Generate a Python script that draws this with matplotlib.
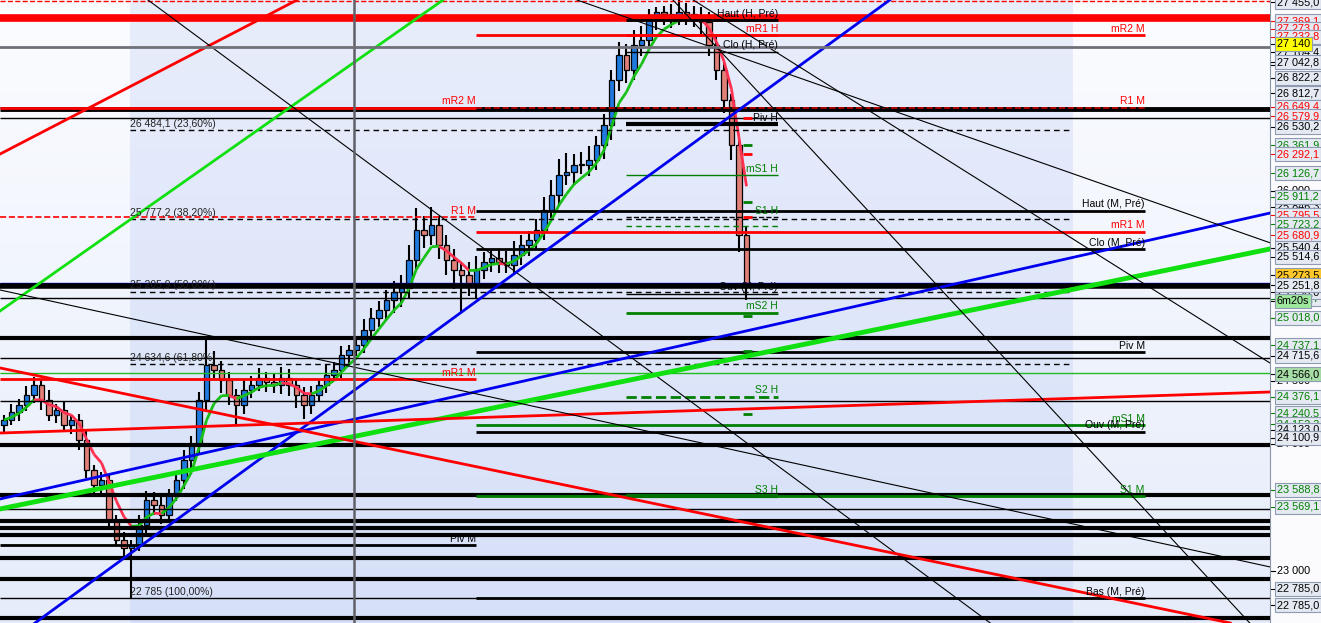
import numpy as np
import pandas as pd
import matplotlib
matplotlib.use("Agg")
import matplotlib.pyplot as plt
from matplotlib.collections import LineCollection
from matplotlib.transforms import blended_transform_factory

plt.rcParams['font.family'] = ['Liberation Sans', 'DejaVu Sans']

# --- bougies (cours de clôture, mèches) ---
first_open = 24150
closes = [24193, 24256, 24311, 24390, 24469, 24351, 24232, 24272, 24153, 24193,
          24035, 23798, 23679, 23719, 23403, 23245, 23182, 23205, 23363, 23561,
          23521, 23442, 23600, 23719, 23877, 23995, 24351, 24627, 24588, 24509,
          24390, 24311, 24430, 24469, 24525, 24493, 24469, 24525, 24469, 24390,
          24311, 24390, 24469, 24548, 24588, 24706, 24746, 24785, 24904, 24999,
          25062, 25141, 25204, 25236, 25457, 25694, 25654, 25733, 25575, 25457,
          25378, 25338, 25259, 25378, 25441, 25473, 25441, 25417, 25496, 25575,
          25615, 25694, 25852, 25970, 26128, 26152, 26207, 26207, 26247, 26365,
          26523, 26879, 27076, 26958, 27155, 27195, 27353, 27420, 27400, 27392,
          27416, 27400, 27369, 27337, 27155, 26958, 26720, 26365, 25654, 25273.5]
wick_up = [40, 60, 50, 70, 60, 40, 80, 50, 60, 40,
           50, 70, 40, 60, 50, 40, 60, 40, 80, 70,
           60, 90, 50, 60, 80, 70, 60, 200, 110, 70,
           60, 50, 90, 70, 80, 50, 60, 90, 70, 50,
           60, 70, 50, 80, 60, 70, 40, 60, 90, 80,
           70, 80, 90, 100, 120, 170, 110, 140, 70, 80,
           90, 60, 100, 110, 80, 70, 60, 90, 110, 80,
           70, 90, 100, 120, 130, 150, 90, 100, 110, 70,
           90, 80, 100, 90, 120, 110, 90, 35, 40, 80,
           100, 70, 60, 90, 80, 70, 60, 50, 40, 60]
wick_dn = [60, 40, 70, 50, 60, 80, 50, 60, 40, 70,
           80, 60, 90, 70, 60, 50, 80, 400, 50, 60,
           80, 70, 60, 50, 70, 60, 80, 90, 60, 100,
           80, 150, 70, 60, 50, 80, 60, 70, 90, 100,
           110, 70, 50, 60, 50, 60, 70, 50, 60, 80,
           70, 90, 100, 120, 80, 90, 100, 80, 110, 120,
           150, 300, 90, 100, 70, 80, 90, 60, 70, 80,
           90, 70, 80, 60, 90, 80, 100, 70, 90, 80,
           110, 120, 90, 100, 80, 90, 70, 80, 90, 100,
           80, 90, 70, 100, 90, 80, 100, 120, 130, 130]

# --- niveaux horizontaux sur toute la largeur (prix, couleur, épaisseur, style) ---
full_levels = [27500, 27369, 26649, 26579, 25273.5, 25251.8, 25157, 24841, 24683, 24566,
               24343, 23995, 23600, 23490, 23395, 23340, 23284, 23103, 22937, 22785, 22629]
full_colors = ['red', 'red', 'black', 'black', 'blue', 'black', 'black', 'black', 'black', '#22bb22',
               'black', 'black', 'black', 'black', 'black', 'black', 'black', 'black', 'black', 'black', 'black']
full_widths = [1, 5.5, 3.5, 1, 1, 4, 1, 3, 1, 1,
               1, 3, 3, 1, 3, 3, 3, 3, 3, 1, 3]
full_styles = ['--', '-', '-', '-', '-', '-', '-', '-', '-', '-',
               '-', '-', '-', '-', '-', '-', '-', '-', '-', '-', '-']

# pivots mensuels précédents (finissent à la barre 63)
prev_m_labels = ['mR2 M', 'R1 M', 'mR1 M', 'Piv M']
prev_m_prices = [26660, 25795.5, 24517, 23205]
prev_m_colors = ['red', 'red', 'red', 'black']
prev_m_styles = ['-', '--', '-', '-']

# pivots mensuels (barres 63 -> 152)
m_labels = ['mR2 M', 'R1 M', 'Haut (M, Pré)', 'mR1 M', 'Clo (M, Pré)', 'Piv M',
            'mS1 M', 'Ouv (M, Pré)', 'S1 M', 'Bas (M, Pré)']
m_prices = [27232.8, 26660, 25846, 25680.9, 25540.4, 24730, 24152, 24100.9, 23588.8, 22785]
m_colors = ['red', '#cc0000', 'black', 'red', 'black', 'black', '#008000', 'black', '#008000', 'black']
m_styles = ['-', '--', '-', '-', '-', '-', '-', '-', '-', '-']
m_text_colors = ['red', 'red', 'black', 'red', 'black', 'black', '#008000', 'black', '#008000', 'black']

# pivots horaires (barres 83 -> 103)
h_labels = ['Haut (H, Pré)', 'mR1 H', 'Clo (H, Pré)', 'Piv H', 'mS1 H', 'S1 H',
            'Ouv (H, Pré)', 'mS2 H', 'S2 H', 'S3 H']
h_prices = [27353, 27232.8, 27104, 26530.2, 26126.7, 25795.5, 25190, 25040, 24376.1, 23588.8]
h_colors = ['black', 'red', 'black', 'black', '#008000', 'black', 'black', '#008000', '#008000', '#007000']
h_widths = [2, 2, 1, 3, 1, 1, 1, 2, 2, 3]
h_styles = ['-', '-', '-', '-', '-', '--', '-', '-', '--', '-']
h_text_colors = ['black', 'red', 'black', 'black', '#008000', '#008000', 'black', '#008000', '#008000', '#008000']
h_extra_prices = [25723.2]

# retracements de Fibonacci (barres 17 -> 142)
fib_prices = [26484.1, 25777.2, 25205.9, 24634.6, 22785]
fib_labels = ['26 484,1 (23,60%)', '25 777,2 (38,20%)', '25 205,9 (50,00%)',
              '24 634,6 (61,80%)', '22 785 (100,00%)']

# droites obliques : deux points (barre, prix)
trend_pts = [((-0.53, 26294), (39.07, 27511)),
             ((-0.53, 25054), (58.53, 27511)),
             ((19.2, 27511), (131.5, 22589)),
             ((4.13, 22589), (118.1, 27511)),
             ((-0.53, 23569), (168.8, 25828)),
             ((-0.53, 23490), (168.8, 25544)),
             ((-0.53, 24090), (168.8, 24414)),
             ((-0.53, 24604), (163.5, 22589)),
             ((-0.53, 25220), (168.8, 23032)),
             ((89.2, 27511), (166.1, 22589)),
             ((91.9, 27511), (168.8, 24643)),
             ((76.4, 27511), (168.8, 25593))]
trend_colors = ['red', '#10e010', 'black', '#0000ee', '#0000ee', '#10e010', 'red', 'red',
                'black', 'black', 'black', 'black']
trend_widths = [2, 2, 0.8, 2, 2, 3.5, 2, 2, 0.8, 0.8, 0.8, 0.8]

# petits repères près de la dernière bougie
mark_prices = [26361.9, 26579, 26292.1, 25911.2, 25795.5, 25018, 24737.1, 24240.5]
mark_colors = ['#008000', 'red', 'red', '#008000', 'red', '#008000', '#008000', '#008000']

# étiquettes de l'axe des prix (texte, position, couleur texte, fond)
axis_text = ['27 455,0', '27 369,1', '27 273,0', '27 232,8', '27 104,4', '27 140', '27 042,8',
             '26 822,2', '26 812,7', '26 649,4', '26 579,9', '26 530,2', '26 361,9', '26 292,1',
             '26 126,7', '25 846,3', '25 911,2', '25 795,5', '25 723,2', '25 680,9', '25 540,4',
             '25 514,6', '25 140,7', '25 190,0', '25 273,5', '25 251,8', '6m20s', '25 018,0',
             '24 737,1', '24 715,6', '24 566,0', '24 376,1', '24 240,5', '24 152,3', '24 123,0',
             '24 100,9', '23 588,8', '23 569,1', '22 785,0', '22 785,0']
axis_pos = [27495, 27345, 27282, 27219, 27100, 27163, 27021,
            26895, 26776, 26666, 26594, 26508, 26365, 26294,
            26144, 25876, 25955, 25812, 25741, 25654, 25552,
            25481, 25149, 25204, 25338, 25259, 25133, 24999,
            24785, 24699, 24556, 24375, 24248, 24161, 24114,
            24051, 23640, 23506, 22858, 22731]
axis_fg = ['black', 'red', 'red', 'red', 'black', 'black', 'black',
           'black', 'black', 'red', 'red', 'black', '#008000', 'red',
           '#008000', 'black', '#008000', 'red', '#008000', 'red', 'black',
           'black', '#008000', 'black', 'black', 'black', 'black', '#008000',
           '#008000', 'black', 'black', '#008000', '#008000', '#008000', 'black',
           'black', '#008000', '#008000', 'black', 'black']
axis_bg = ['#e4e9f2', '#e4e9f2', '#e4e9f2', '#e4e9f2', '#e4e9f2', '#ffff00', '#e4e9f2',
           '#e4e9f2', '#e4e9f2', '#e4e9f2', '#e4e9f2', '#e4e9f2', '#e4e9f2', '#e4e9f2',
           '#e4e9f2', '#e4e9f2', '#e4e9f2', '#e4e9f2', '#e4e9f2', '#e4e9f2', '#e4e9f2',
           '#e4e9f2', '#e4e9f2', '#e4e9f2', '#ffc828', '#e4e9f2', '#9ee89e', '#e4e9f2',
           '#e4e9f2', '#e4e9f2', '#a6dca6', '#e4e9f2', '#e4e9f2', '#e4e9f2', '#e4e9f2',
           '#e4e9f2', '#e4e9f2', '#e4e9f2', '#e4e9f2', '#e4e9f2']
plain_ticks = [27000, 26000, 25000, 24500, 24000, 23000]
plain_text = ['27 000', '26 000', '25 000', '24 500', '24 000', '23 000']

cursor_bar = 46.7
cursor_price = 27140

XMIN, XMAX = -0.533, 168.8
YMIN, YMAX = 22589, 27511

fig = plt.figure(figsize=(13.21, 6.23), dpi=100)
fig.patch.set_facecolor('#fbfbfd')
ax = fig.add_axes([0, 0, 1270 / 1321, 1])
ax.set_xlim(XMIN, XMAX)
ax.set_ylim(YMIN, YMAX)

# fond dégradé
H, W = 623, 1270
t = np.linspace(0, 1, H)[:, None, None]
top_c = np.array([0.91, 0.93, 0.985])
bot_c = np.array([0.84, 0.878, 0.973])
side_top = np.array([0.985, 0.99, 1.0])
side_bot = np.array([0.90, 0.925, 0.982])
img = np.repeat(top_c + (bot_c - top_c) * t, W, axis=1)
side = side_top + (side_bot - side_top) * t
xs = np.arange(W)
img[:, xs < 130, :] = np.repeat(side, (xs < 130).sum(), axis=1)
img[:, xs > 1072, :] = np.repeat(side, (xs > 1072).sum(), axis=1)
ax.imshow(img, extent=(XMIN, XMAX, YMIN, YMAX), aspect='auto', origin='upper', zorder=0)

# bougies
n = len(closes)
opens = [first_open] + closes[:-1]
for i in range(n):
    o, c = opens[i], closes[i]
    hi = max(o, c) + wick_up[i]
    lo = min(o, c) - wick_dn[i]
    col = '#1f7ae0' if c >= o else '#e08078'
    ax.vlines(i, lo, hi, color='black', lw=1.5, zorder=2)
    ax.bar(i, max(abs(c - o), 10), bottom=min(o, c), width=0.74, color=col,
           edgecolor='black', lw=0.9, zorder=2.5)

# moyenne mobile colorée selon la pente
ema = pd.Series(closes).ewm(span=5, adjust=False).mean().values
segs = [[(i, ema[i]), (i + 1, ema[i + 1])] for i in range(n - 1)]
cols = ['#18c018' if ema[i + 1] >= ema[i] else '#ff3050' for i in range(n - 1)]
ax.add_collection(LineCollection(segs, colors=cols, linewidths=2, zorder=3))

# niveaux pleine largeur
for p, c, w, s in zip(full_levels, full_colors, full_widths, full_styles):
    ax.hlines(p, XMIN, XMAX, colors=c, lw=w, linestyles=s, zorder=3)

# fibo
for p, lab in zip(fib_prices, fib_labels):
    if p != 22785:
        ax.hlines(p, 16.8, 142.1, colors='black', lw=1, linestyles=(0, (4, 3)), zorder=3)
    ax.annotate(lab, (16.8, p), xytext=(0, 1), textcoords='offset points',
                fontsize=7.5, ha='left', va='bottom', color='#222222', zorder=6)

# pivots mensuels précédents
for lab, p, c, s in zip(prev_m_labels, prev_m_prices, prev_m_colors, prev_m_styles):
    ax.hlines(p, XMIN, 62.9, colors=c, lw=2 if s == '-' else 1.2, linestyles=s, zorder=3.2)
    ax.annotate(lab, (62.9, p), xytext=(0, 1), textcoords='offset points',
                fontsize=7.5, ha='right', va='bottom', color=c, zorder=6)

# pivots mensuels
for lab, p, c, s, tc in zip(m_labels, m_prices, m_colors, m_styles, m_text_colors):
    ax.hlines(p, 62.9, 152.1, colors=c, lw=2 if s == '-' else 1.2, linestyles=s, zorder=3.2)
    ax.annotate(lab, (152.1, p), xytext=(0, 1), textcoords='offset points',
                fontsize=7.5, ha='right', va='bottom', color=tc, zorder=6)

# pivots horaires
for lab, p, c, w, s, tc in zip(h_labels, h_prices, h_colors, h_widths, h_styles, h_text_colors):
    ax.hlines(p, 82.9, 103.2, colors=c, lw=w, linestyles=s, zorder=3.3)
    ax.annotate(lab, (103.2, p), xytext=(0, 1), textcoords='offset points',
                fontsize=7.5, ha='right', va='bottom', color=tc, zorder=6)
for p in h_extra_prices:
    ax.hlines(p, 82.9, 103.2, colors='#008000', lw=1, linestyles=(0, (4, 3)), zorder=3.3)

# repères
for p, c in zip(mark_prices, mark_colors):
    ax.hlines(p, 98.6, 99.8, colors=c, lw=2, zorder=4)

# droites obliques
for (p1, p2), c, w in zip(trend_pts, trend_colors, trend_widths):
    ax.axline(p1, p2, color=c, lw=w, zorder=4)

# réticule
ax.axvline(cursor_bar, color='#606068', lw=1.8, zorder=4.5)
ax.axhline(cursor_price, color='#707078', lw=2, zorder=4.5)

ax.set_xticks([])
ax.set_yticks([])
for sp in ['top', 'left', 'bottom']:
    ax.spines[sp].set_visible(False)
ax.spines['right'].set_color('#8a96a8')

# axe des prix
tr = blended_transform_factory(ax.transAxes, ax.transData)
for p, s in zip(plain_ticks, plain_text):
    ax.plot([1.0, 1.004], [p, p], color='black', lw=0.8, transform=tr, clip_on=False)
    ax.text(1.0055, p, s, transform=tr, fontsize=7.8, ha='left', va='center',
            color='black', clip_on=False, zorder=7)
for s, p, fg, bg in zip(axis_text, axis_pos, axis_fg, axis_bg):
    ax.plot([1.0, 1.004], [p, p], color=fg, lw=0.8, transform=tr, clip_on=False)
    ax.text(1.0055, p, s, transform=tr, fontsize=7.8, ha='left', va='center', color=fg,
            clip_on=False, zorder=8,
            bbox=dict(boxstyle='square,pad=0.18', fc=bg, ec='#8e9bb2', lw=0.8))

fig.savefig('out.png', dpi=100)
